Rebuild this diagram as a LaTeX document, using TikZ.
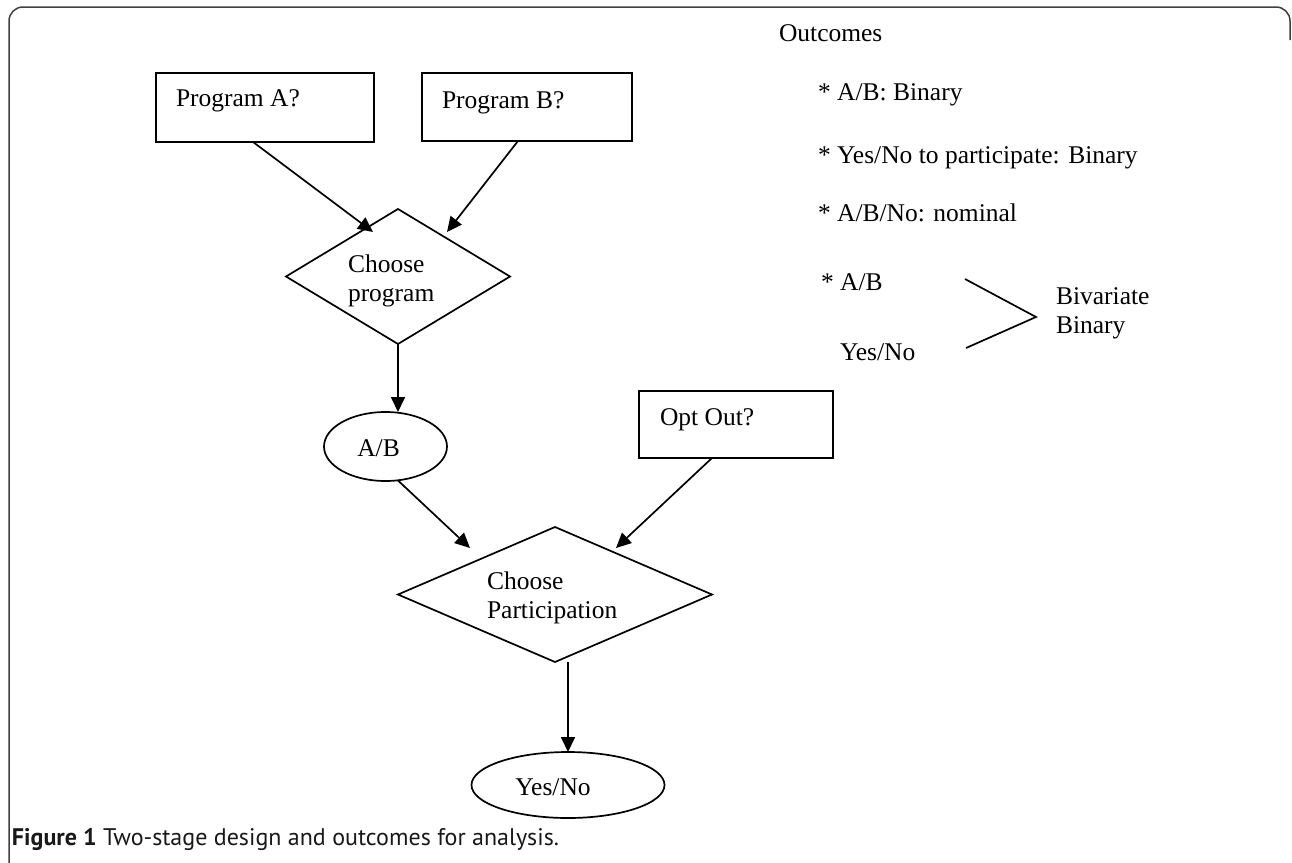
\documentclass[tikz,border=0pt]{standalone}
\usepackage{fontspec}
\setmainfont{Liberation Serif}
\newfontfamily\capfont{PT Sans}
\usetikzlibrary{shapes.geometric,arrows.meta,calc}
\begin{document}
\begin{tikzpicture}[x=1pt,y=-1pt,
  every node/.style={inner sep=0pt, outer sep=0pt},
  lbl/.style={anchor=base west, font=\fontsize{25.5}{29}\selectfont, align=left},
  box/.style={draw, line width=1.7pt, rectangle},
  dia/.style={draw, line width=1.7pt, diamond},
  ell/.style={draw, line width=1.7pt, ellipse},
  arr/.style={line width=1.7pt, -{Triangle[length=15pt,width=14pt]}},
  ln/.style={line width=1.7pt}]
\useasboundingbox (0,0) rectangle (1292,862);
\fill[white] (0,0) rectangle (1292,862);
\draw[line width=1.5pt, black!75, rounded corners=14pt] (9,870) -- (9,7) -- (1290,7) -- (1290,40);

% boxes and shapes
\node[box, minimum width=218pt, minimum height=69pt] (pa) at (265,107.5) {};
\node[lbl] (tpa) at (176,106) {Program A?};
\node[box, minimum width=210pt, minimum height=68pt] (pb) at (527,107) {};
\node[lbl] (tpb) at (442,108) {Program B?};
\node[dia, minimum width=224pt, minimum height=135pt] (d1) at (398,276.5) {};
\node[lbl] (td1) at (348,301) {Choose\\program};
\node[ell, minimum width=123pt, minimum height=69pt] (ab) at (385.5,446.5) {};
\node[lbl, anchor=base] (tab) at (378.5,456) {A/B};
\node[box, minimum width=194pt, minimum height=67pt] (oo) at (736,424.5) {};
\node[lbl] (too) at (660,425) {Opt Out?};
\node[dia, minimum width=314pt, minimum height=135pt] (d2) at (555,594.5) {};
\node[lbl] (td2) at (487,618) {Choose\\Participation};
\node[ell, minimum width=193pt, minimum height=66pt] (yn) at (568,785) {};
\node[lbl, anchor=base] (tyn) at (553,795) {Yes/No};

% connectors
\draw[arr] ($(pa.south)+(-12,0)$) -- ($(d1.center)+(-25,-44.5)$);
\draw[arr] ($(pb.south)+(-9,0)$) -- ($(d1.center)+(49,-44.5)$);
\draw[arr] (d1.south) -- (d1.south |- ab.north);
\draw[arr] ($(ab.south)+(12.5,-0.5)$) -- ($(d2.center)+(-85,-46.5)$);
\draw[arr] ($(oo.south)+(-24,0)$) -- ($(d2.center)+(61,-46.5)$);
\draw[arr] (d2.south -| yn.north) -- (yn.north);

% outcomes
\node[lbl] (o0) at (779,41) {Outcomes};
\node[lbl] (o1) at (818,100) {* A/B: Binary};
\node[lbl] (o2) at (818,163) {* Yes/No to participate: Binary};
\node[lbl] (o3) at (818,221) {* A/B/No: nominal};
\node[lbl] (o4) at (821,290) {* A/B};
\node[lbl] (o5) at (840,360) {Yes/No};
\coordinate (bv1) at (965,279);
\coordinate (bv2) at (1036,317);
\coordinate (bv3) at (966,348);
\draw[ln] (bv1) -- (bv2) -- (bv3);
\node[lbl] (o6) at (1056,333) {Bivariate\\Binary};

% caption
\node[anchor=base west, font=\capfont\fontsize{24}{28}\selectfont, text=black!90] (cap) at (12,845) {\textbf{Figure 1} Two-stage design and outcomes for analysis.};
\end{tikzpicture}
\end{document}
